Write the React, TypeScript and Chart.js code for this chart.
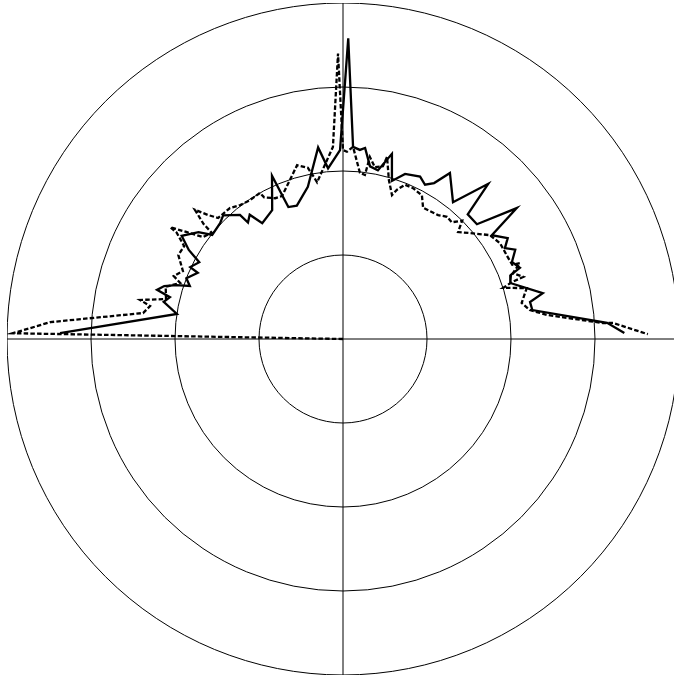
import { useEffect, useRef } from 'react';
import { Chart, registerables } from 'chart.js';

Chart.register(...registerables);

// Polar data: angle in degrees (0 = right, 90 = up, 180 = left), radius in plot units (outer ring = 40)
const solidAngles = [
  178.8, 171.4, 168.3, 166.4, 165.2, 163.5, 162.1, 160.9, 158.8, 155.5,
  154.8, 151.9, 150.0, 147.4, 143.5, 141.5, 136.7, 134.1, 129.7, 129.2,
  126.9, 124.9, 118.8, 113.5, 112.5, 109.1, 103.0, 97.4, 95.0, 90.9,
  89.05, 87.0, 84.9, 83.4, 81.1, 78.3, 75.2, 72.8, 69.4, 64.6,
  62.0, 59.7, 57.2, 51.2, 46.9, 45.0, 40.6, 37.0, 34.9, 31.5,
  29.3, 27.4, 24.5, 21.9, 20.9, 18.5, 12.95, 11.2, 8.7, 3.47, 1.22,
];
const solidValues = [
  33.7, 20.0, 21.8, 21.2, 22.9, 22.2, 20.9, 19.3, 20.0, 19.0,
  20.1, 19.4, 21.2, 22.8, 21.4, 19.9, 20.1, 20.5, 19.2, 17.9,
  18.5, 16.8, 17.5, 21.2, 17.0, 16.8, 18.6, 23.0, 20.4, 22.5,
  35.8, 22.9, 22.6, 22.9, 20.8, 20.5, 22.8, 19.7, 21.0, 21.4,
  20.8, 21.5, 23.5, 20.9, 25.3, 21.0, 21.0, 25.9, 21.6, 23.0,
  22.1, 23.1, 22.1, 22.7, 21.4, 21.0, 24.4, 22.7, 22.8, 31.5, 33.5,
];

const dottedAngles = [
  180.0, 178.96, 176.7, 172.6, 170.3, 169.1, 167.3, 163.6, 161.0, 159.6,
  157.0, 153.0, 149.7, 147.4, 147.1, 145.6, 143.9, 141.0, 140.5, 138.9,
  137.4, 135.9, 130.8, 127.5, 123.8, 119.6, 119.1, 115.75, 113.1, 104.8,
  101.6, 100.15, 99.4, 92.98, 91.0, 90.0, 88.8, 87.0, 84.15, 82.4,
  81.6, 79.5, 77.0, 76.4, 73.9, 71.2, 70.1, 68.1, 65.1, 61.25,
  58.6, 52.5, 49.55, 47.0, 44.8, 42.9, 39.85, 35.3, 31.4, 26.4,
  23.65, 23.2, 21.2, 19.0, 18.6, 17.7, 15.5, 11.4, 8.8, 6.7,
  3.52, 3.39, 0.94,
];
const dottedValues = [
  0.0, 39.3, 34.9, 24.0, 23.3, 24.6, 21.6, 22.0, 20.5, 21.5,
  20.7, 22.0, 21.9, 23.5, 24.5, 22.5, 20.6, 20.1, 21.5, 23.4,
  21.8, 20.7, 20.6, 20.1, 19.9, 20.0, 19.3, 18.6, 18.5, 21.4,
  20.8, 19.6, 18.9, 22.9, 34.0, 22.5, 22.3, 22.9, 19.9, 19.7,
  21.9, 20.8, 21.1, 22.3, 19.7, 18.1, 18.9, 19.8, 19.8, 19.5,
  18.3, 18.6, 19.1, 19.0, 20.0, 18.7, 19.7, 21.4, 21.9, 21.9,
  22.0, 22.9, 21.7, 22.7, 21.2, 20.0, 22.7, 21.7, 22.5, 24.5,
  31.0, 32.2, 36.3,
];

const radiusMax = 40;
const radiusStep = 10;
const ANGLE_STEP = 0.1; // degrees per radial category
const N = Math.round(360 / ANGLE_STEP);

function toSeries(angles: number[], values: number[]) {
  const out: (number | null)[] = new Array(N).fill(null);
  angles.forEach((a, k) => {
    out[Math.round((180 - a) / ANGLE_STEP) % N] = values[k];
  });
  return out;
}

const openPathPlugin = {
  id: 'openPath',
  beforeDatasetsDraw(chart: any) {
    chart.getSortedVisibleDatasetMetas().forEach((m: any) => {
      const ln = m.dataset;
      if (ln) {
        ln._loop = false;
        ln._fullLoop = false;
        ln._segments = undefined;
        ln._path = undefined;
      }
    });
  },
};

export default function App() {
  const ref = useRef<HTMLCanvasElement | null>(null);
  useEffect(() => {
    if (!ref.current) return;
    const labels = Array.from({ length: N }, (_, i) => String(i));
    const chart = new Chart(ref.current, {
      type: 'radar',
      data: {
        labels,
        datasets: [
          {
            label: 'solid',
            data: toSeries(solidAngles, solidValues),
            borderColor: '#000',
            borderWidth: 2.3,
            fill: false,
            pointRadius: 0,
            pointHoverRadius: 0,
            spanGaps: true,
            tension: 0,
          },
          {
            label: 'dotted',
            data: toSeries(dottedAngles, dottedValues),
            borderColor: '#000',
            borderWidth: 2.3,
            borderDash: [4.5, 2.2],
            fill: false,
            pointRadius: 0,
            pointHoverRadius: 0,
            spanGaps: true,
            tension: 0,
          },
        ],
      },
      options: {
        animation: false,
        responsive: false,
        maintainAspectRatio: false,
        devicePixelRatio: 1,
        events: [],
        layout: { padding: 0 },
        plugins: { legend: { display: false }, tooltip: { enabled: false } },
        scales: {
          r: {
            min: 0,
            max: radiusMax,
            startAngle: 270,
            ticks: { display: false, stepSize: radiusStep },
            grid: { circular: true, color: '#000', lineWidth: 1 },
            angleLines: {
              display: true,
              color: '#000',
              lineWidth: (ctx: any) => (ctx.index % (N / 4) === 0 ? 1 : 0),
            },
            pointLabels: { display: false },
          },
        },
      } as any,
      plugins: [openPathPlugin],
    });
    return () => chart.destroy();
  }, []);
  return (
    <div
      style={{
        position: 'fixed',
        left: 0,
        top: 0,
        width: 674,
        height: 679,
        overflow: 'hidden',
        background: '#fff',
      }}
    >
      <canvas
        ref={ref}
        width={672}
        height={672}
        style={{ position: 'absolute', left: 7, top: 3, width: 672, height: 672 }}
      />
    </div>
  );
}
